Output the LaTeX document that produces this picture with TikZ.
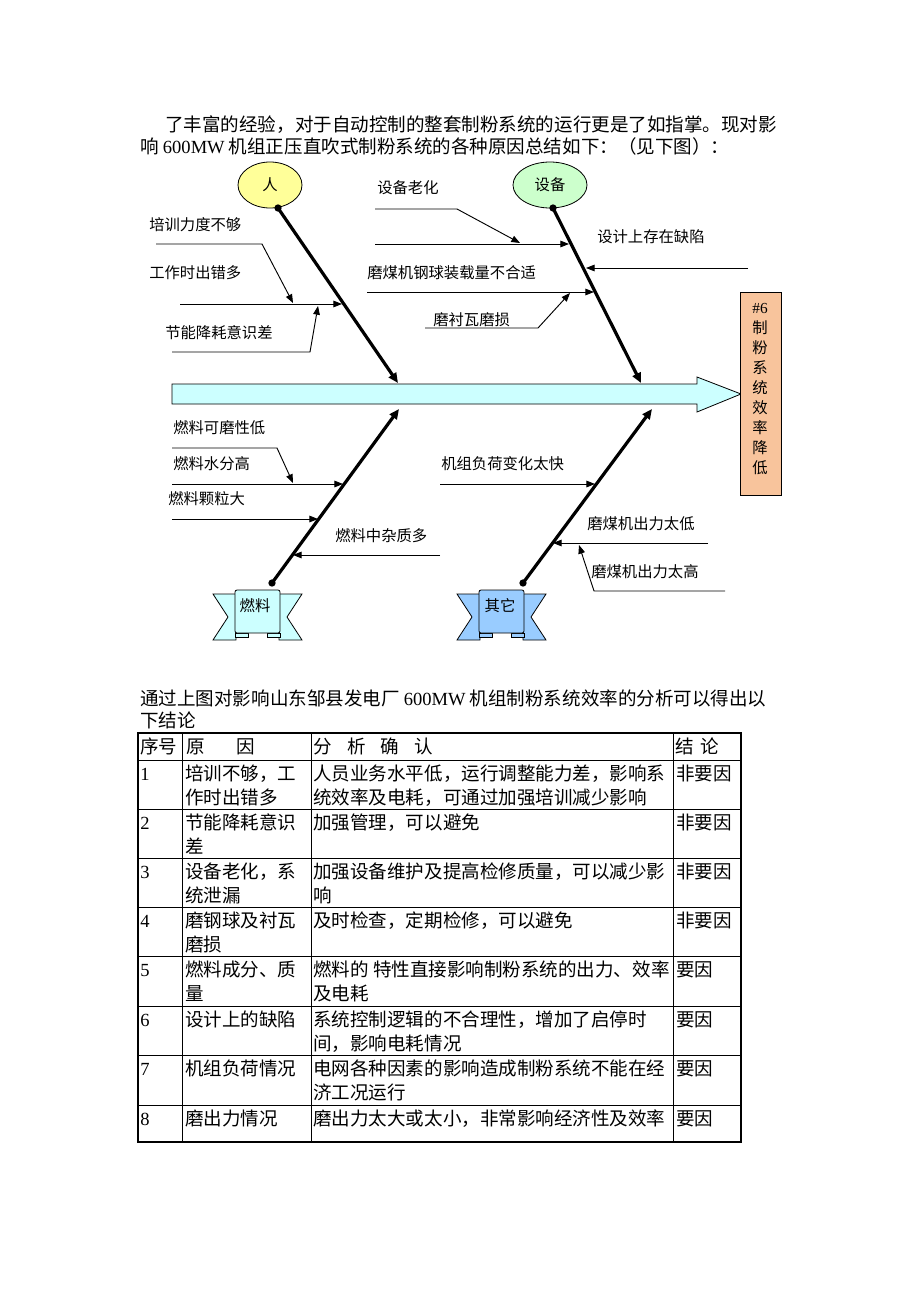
\documentclass[tikz,border=0pt]{standalone}
\usepackage{fontspec}
\setmainfont{Noto Sans CJK SC}
\newfontfamily\tnr{Liberation Serif}
\usetikzlibrary{arrows.meta}
\usetikzlibrary{shapes.geometric}
\definecolor{renyellow}{HTML}{FFFF99}
\definecolor{sbgreen}{HTML}{CCFFCC}
\definecolor{spinecyan}{HTML}{CCFFFF}
\definecolor{qitablue}{HTML}{99CCFF}
\definecolor{resorange}{HTML}{F8C49C}
\newcommand{\bodyfs}{\fontsize{13.9}{18}\selectfont}
\newcommand{\lblfs}{\fontsize{11.5}{15}\selectfont}

\begin{document}
\begin{tikzpicture}[x=0.75pt,y=0.75pt,yscale=-1,xscale=1,
  bone/.style={line width=2.4pt,-{Triangle[length=7.5pt,width=6.5pt]}},
  twig/.style={line width=0.7pt,-{Triangle[length=6.5pt,width=5pt]}},
  plain/.style={line width=0.7pt},
  lbl/.style={anchor=base west,inner sep=0pt,font=\lblfs},
  body/.style={anchor=base west,inner sep=0pt,font=\bodyfs},
  blob/.style={circle,fill=black,inner sep=0pt,minimum size=5.5pt}]
%set diagram size to the page
\useasboundingbox (0,0) rectangle (920,1302);
\fill[white] (0,0) rectangle (920,1302);

% Text Node
\node[body] (para1) at (165,132) {了丰富的经验，对于自动控制的整套制粉系统的运行更是了如指掌。现对影};
% Text Node
\node[body] (para2) at (140,154) {响 {\tnr 600MW} 机组正压直吹式制粉系统的各种原因总结如下：（见下图）：};

%Shape: Spine arrow
\draw[fill=spinecyan,line width=0.6pt] (172,384) -- (697,384) -- (697,377) -- (741,394) -- (697,412) -- (697,404) -- (172,404) -- cycle;
%Shape: Result box
\node[draw,fill=resorange,line width=0.7pt,anchor=north west,minimum width=30.75pt,minimum height=152pt,inner sep=0pt] (result) at (740,292) {};
\node[align=center,inner sep=0pt,font=\fontsize{11.5}{15}\selectfont] (resulttxt) at (760,389) {{\tnr\#6}\\制\\粉\\系\\统\\效\\率\\降\\低};

%Shape: Ellipse heads
\node[ellipse,draw,fill=renyellow,line width=0.6pt,minimum width=48pt,minimum height=34.5pt,inner sep=0pt,font=\lblfs] (ren) at (270,185) {人};
\node[ellipse,draw,fill=sbgreen,line width=0.6pt,minimum width=55.5pt,minimum height=34.5pt,inner sep=0pt,font=\lblfs] (shebei) at (550,185) {设备};

%Shape: Ribbon 燃料
\draw[fill=spinecyan,line width=0.6pt] (213,594) -- (236,594) -- (236,640) -- (213,640) -- (228,617) -- cycle;
\draw[fill=spinecyan,line width=0.6pt] (302,594) -- (279,594) -- (279,640) -- (302,640) -- (287,617) -- cycle;
\draw[fill=spinecyan,line width=0.6pt] (235,637) rectangle (248,633);
\draw[fill=spinecyan,line width=0.6pt] (267,637) rectangle (280,633);
\draw[fill=spinecyan,line width=0.6pt,rounded corners=1.5pt] (235,590) rectangle (280,633);
\node[inner sep=0pt,font=\lblfs] (ranliao) at (255,606) {燃料};

%Shape: Ribbon 其它
\draw[fill=qitablue,line width=0.6pt] (457,594) -- (480,594) -- (480,640) -- (457,640) -- (472,617) -- cycle;
\draw[fill=qitablue,line width=0.6pt] (546,594) -- (523,594) -- (523,640) -- (546,640) -- (531,617) -- cycle;
\draw[fill=qitablue,line width=0.6pt] (479,637) rectangle (492,633);
\draw[fill=qitablue,line width=0.6pt] (511,637) rectangle (524,633);
\draw[fill=qitablue,line width=0.6pt,rounded corners=1.5pt] (479,590) rectangle (524,633);
\node[inner sep=0pt,font=\lblfs] (qita) at (500,606) {其它};

% Main bones
\node[blob] (renroot) at (278,208) {};
\coordinate (renend) at (398,383);
\draw[bone] (renroot.center) -- (renend);
\node[blob] (shebeiroot) at (553,208) {};
\coordinate (shebeiend) at (641,383);
\draw[bone] (shebeiroot.center) -- (shebeiend);
\node[blob] (ranliaoroot) at (272,583) {};
\coordinate (ranliaoend) at (399,409);
\draw[bone] (ranliaoroot.center) -- (ranliaoend);
\node[blob] (qitaroot) at (523,583) {};
\coordinate (qitaend) at (652,409);
\draw[bone] (qitaroot.center) -- (qitaend);

% Branch 人
\coordinate (a1s) at (156,244); \coordinate (a1b) at (262,244); \coordinate (a1e) at (293,303);
\draw[twig] (a1s) -- (a1b) -- (a1e);
\coordinate (a2s) at (180,304); \coordinate (a2e) at (342,304);
\draw[twig] (a2s) -- (a2e);
\coordinate (a3s) at (172,352); \coordinate (a3b) at (310,352); \coordinate (a3e) at (318,306);
\draw[twig] (a3s) -- (a3b) -- (a3e);
\node[lbl] (peixun) at (149,230) {培训力度不够};
\node[lbl] (chucuo) at (149,278) {工作时出错多};
\node[lbl] (jieneng) at (165,338) {节能降耗意识差};

% Branch 设备
\coordinate (b1s) at (375,209); \coordinate (b1b) at (457,209); \coordinate (b1e) at (520,243);
\draw[twig] (b1s) -- (b1b) -- (b1e);
\coordinate (b2s) at (375,244); \coordinate (b2e) at (569,244);
\draw[twig] (b2s) -- (b2e);
\coordinate (b3s) at (748,268); \coordinate (b3e) at (586,268);
\draw[twig] (b3s) -- (b3e);
\coordinate (b4s) at (367,292); \coordinate (b4e) at (594,292);
\draw[twig] (b4s) -- (b4e);
\coordinate (b5s) at (425,328); \coordinate (b5b) at (538,328); \coordinate (b5e) at (570,293);
\draw[twig] (b5s) -- (b5b) -- (b5e);
\node[lbl] (laohua) at (377,194) {设备老化};
\node[lbl] (sheji) at (597,242) {设计上存在缺陷};
\node[lbl] (gangqiu) at (367,278) {磨煤机钢球装载量不合适};
\node[lbl] (chenwa) at (433,325) {磨衬瓦磨损};

% Branch 燃料
\coordinate (c1s) at (172,448); \coordinate (c1b) at (277,448); \coordinate (c1e) at (293,483);
\draw[twig] (c1s) -- (c1b) -- (c1e);
\coordinate (c2s) at (172,484); \coordinate (c2e) at (343,484);
\draw[twig] (c2s) -- (c2e);
\coordinate (c3s) at (172,519); \coordinate (c3e) at (318,519);
\draw[twig] (c3s) -- (c3e);
\coordinate (c4s) at (440,555); \coordinate (c4e) at (293,555);
\draw[twig] (c4s) -- (c4e);
\node[lbl] (kemo) at (173,433) {燃料可磨性低};
\node[lbl] (shuifen) at (173,469) {燃料水分高};
\node[lbl] (keli) at (168,504) {燃料颗粒大};
\node[lbl] (zazhi) at (335,541) {燃料中杂质多};

% Branch 其它
\coordinate (d1s) at (440,484); \coordinate (d1e) at (595,484);
\draw[twig] (d1s) -- (d1e);
\coordinate (d2s) at (708,543); \coordinate (d2e) at (553,543);
\draw[twig] (d2s) -- (d2e);
\coordinate (d3s) at (725,591); \coordinate (d3b) at (594,591); \coordinate (d3e) at (579,545);
\draw[twig] (d3s) -- (d3b) -- (d3e);
\node[lbl] (fuhe) at (441,469) {机组负荷变化太快};
\node[lbl] (taidi) at (587,529) {磨煤机出力太低};
\node[lbl] (taigao) at (591,577) {磨煤机出力太高};

% Text Node
\node[body] (para3) at (140,705) {通过上图对影响山东邹县发电厂 {\tnr 600MW} 机组制粉系统效率的分析可以得出以};
\node[body] (para4) at (140,727) {下结论};

%Shape: Table grid
\draw[line width=0.6pt] (138,760) -- (741,760);
\draw[line width=0.6pt] (138,809) -- (741,809);
\draw[line width=0.6pt] (138,858) -- (741,858);
\draw[line width=0.6pt] (138,907) -- (741,907);
\draw[line width=0.6pt] (138,956) -- (741,956);
\draw[line width=0.6pt] (138,1006) -- (741,1006);
\draw[line width=0.6pt] (138,1055) -- (741,1055);
\draw[line width=0.6pt] (138,1105) -- (741,1105);
\draw[line width=0.6pt] (182,733) -- (182,1142);
\draw[line width=0.6pt] (311,733) -- (311,1142);
\draw[line width=0.6pt] (673,733) -- (673,1142);
\draw[line width=1.3pt] (138,733) rectangle (741,1142);

% Table header
\node[body] (h1) at (140,753) {序号};
\node[body] (h2) at (186,753) {原\hspace{24pt}因};
\node[body] (h3) at (313,753) {分\hspace{11.5pt}析\hspace{11.5pt}确\hspace{11.5pt}认};
\node[body] (h4) at (675,753) {结\hspace{5pt}论};

% Row 1
\node[body] (n1) at (140,780) {\tnr 1};
\node[body] (r1a) at (185,780) {培训不够，工};
\node[body] (r1b) at (185,804) {作时出错多};
\node[body] (r1c) at (313,780) {人员业务水平低，运行调整能力差，影响系};
\node[body] (r1d) at (313,804) {统效率及电耗，可通过加强培训减少影响};
\node[body] (r1e) at (676,780) {非要因};
% Row 2
\node[body] (n2) at (140,829) {\tnr 2};
\node[body] (r2a) at (185,829) {节能降耗意识};
\node[body] (r2b) at (185,853) {差};
\node[body] (r2c) at (313,829) {加强管理，可以避免};
\node[body] (r2e) at (676,829) {非要因};
% Row 3
\node[body] (n3) at (140,878) {\tnr 3};
\node[body] (r3a) at (185,878) {设备老化，系};
\node[body] (r3b) at (185,902) {统泄漏};
\node[body] (r3c) at (313,878) {加强设备维护及提高检修质量，可以减少影};
\node[body] (r3d) at (313,902) {响};
\node[body] (r3e) at (676,878) {非要因};
% Row 4
\node[body] (n4) at (140,927) {\tnr 4};
\node[body] (r4a) at (185,927) {磨钢球及衬瓦};
\node[body] (r4b) at (185,951) {磨损};
\node[body] (r4c) at (313,927) {及时检查，定期检修，可以避免};
\node[body] (r4e) at (676,927) {非要因};
% Row 5
\node[body] (n5) at (140,976) {\tnr 5};
\node[body] (r5a) at (185,976) {燃料成分、质};
\node[body] (r5b) at (185,1000) {量};
\node[body] (r5c) at (313,976) {燃料的 特性直接影响制粉系统的出力、效率};
\node[body] (r5d) at (313,1000) {及电耗};
\node[body] (r5e) at (676,976) {要因};
% Row 6
\node[body] (n6) at (140,1026) {\tnr 6};
\node[body] (r6a) at (185,1026) {设计上的缺陷};
\node[body] (r6c) at (313,1026) {系统控制逻辑的不合理性，增加了启停时};
\node[body] (r6d) at (313,1050) {间，影响电耗情况};
\node[body] (r6e) at (676,1026) {要因};
% Row 7
\node[body] (n7) at (140,1075) {\tnr 7};
\node[body] (r7a) at (185,1075) {机组负荷情况};
\node[body] (r7c) at (313,1075) {电网各种因素的影响造成制粉系统不能在经};
\node[body] (r7d) at (313,1099) {济工况运行};
\node[body] (r7e) at (676,1075) {要因};
% Row 8
\node[body] (n8) at (140,1125) {\tnr 8};
\node[body] (r8a) at (185,1125) {磨出力情况};
\node[body] (r8c) at (313,1125) {磨出力太大或太小，非常影响经济性及效率};
\node[body] (r8e) at (676,1125) {要因};

\end{tikzpicture}
\end{document}
